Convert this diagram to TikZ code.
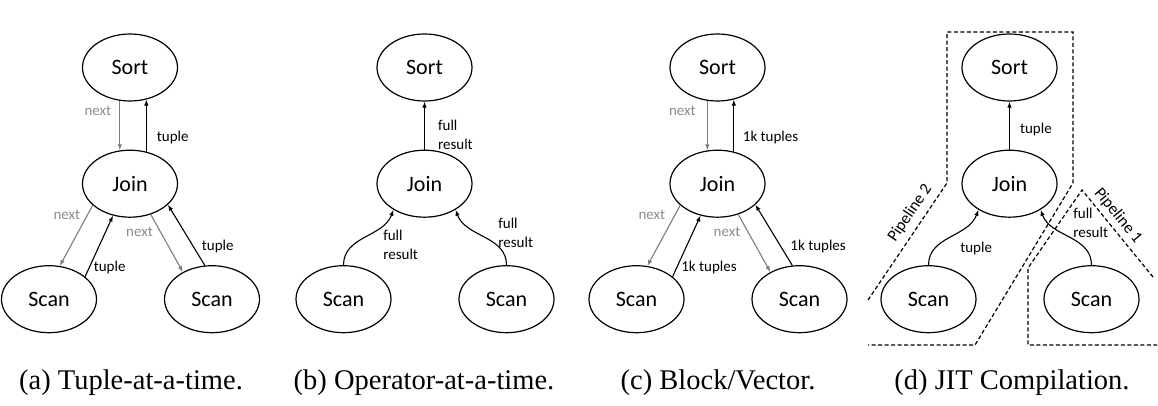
\documentclass[tikz,border=0pt]{standalone}
\usepackage{fontspec}
\setmainfont{Carlito}
\newfontfamily\capfont{Liberation Serif}
\usetikzlibrary{arrows.meta,positioning,shapes.geometric}
\definecolor{arrowgray}{RGB}{125,125,125}
\definecolor{labelgray}{RGB}{140,140,140}

\begin{document}
\begin{tikzpicture}[x=1pt, y=1pt, node distance=48pt,
    op/.style={ellipse, draw, line width=1.2pt, minimum width=95pt, minimum height=67pt,
               inner sep=0pt, font=\fontsize{22}{26}\selectfont},
    lbl/.style={font=\fontsize{15}{19}\selectfont, inner sep=1pt, align=left},
    nxt/.style={lbl, text=labelgray},
    push/.style={-{Latex[length=6pt,width=4.5pt]}, line width=1.1pt},
    pull/.style={push, draw=arrowgray},
    pipe/.style={line width=1.2pt, dash pattern=on 4pt off 2.5pt},
    pipelbl/.style={lbl, font=\fontsize{16.5}{19}\selectfont},
    subcap/.style={anchor=base, font=\capfont\fontsize{28.5}{32}\selectfont}]
  \useasboundingbox (0,0) rectangle (1158,405);

  % (a) tuple-at-a-time
  \node[op] (sortA) at (130,337.5) {Sort};
  \node[op, below=of sortA] (joinA) {Join};
  \node[op] (scanLA) at ([shift={(-81,-115.5)}]joinA) {Scan};
  \node[op] (scanRA) at ([shift={(82,-115.5)}]joinA) {Scan};
  \draw[pull] (sortA.-107) -- node[nxt, pos=0.2, left=7pt] {next} (joinA.107);
  \draw[push] (joinA.63) -- node[lbl, pos=0.27, right=9pt] {tuple} (sortA.-63);
  \draw[pull] (joinA.210) -- node[nxt, pos=0.15, left=6pt] {next} (scanLA.72);
  \draw[push] (scanLA.32) -- node[lbl, pos=0.15, right=3pt] {tuple} (joinA.242);
  \draw[pull] (joinA.304) -- node[nxt, pos=0.3, left=6pt] {next} (scanRA.137);
  \draw[push] (scanRA.102) -- node[lbl, pos=0.31, right=7pt] {tuple} (joinA.331);

  % (b) operator-at-a-time
  \node[op] (sortB) at (424.5,337.5) {Sort};
  \node[op, below=of sortB] (joinB) {Join};
  \node[op] (scanLB) at ([shift={(-81,-115.5)}]joinB) {Scan};
  \node[op] (scanRB) at ([shift={(82,-115.5)}]joinB) {Scan};
  \draw[push] (joinB) -- node[lbl, pos=0.31, right=12pt] {full\\result} (sortB);
  \draw[push] (scanLB.north) to[out=90, in=-110]
    node[lbl, pos=0.5, right=17pt, yshift=-8pt] {full\\result} (joinB.220);
  \draw[push] (scanRB.north) to[out=90, in=-70]
    node[lbl, pos=0.5, right=12pt, yshift=3.5pt] {full\\result} (joinB.320);

  % (c) block / vector
  \node[op] (sortC) at (717.5,337.5) {Sort};
  \node[op, below=of sortC] (joinC) {Join};
  \node[op] (scanLC) at ([shift={(-81,-115.5)}]joinC) {Scan};
  \node[op] (scanRC) at ([shift={(82,-115.5)}]joinC) {Scan};
  \draw[pull] (sortC.-107) -- node[nxt, pos=0.2, left=10pt] {next} (joinC.107);
  \draw[push] (joinC.63) -- node[lbl, pos=0.27, right=7.5pt] {1k tuples} (sortC.-63);
  \draw[pull] (joinC.210) -- node[nxt, pos=0.15, left=8.5pt] {next} (scanLC.72);
  \draw[push] (scanLC.32) -- node[lbl, pos=0.15, right=3pt] {1k tuples} (joinC.242);
  \draw[pull] (joinC.304) -- node[nxt, pos=0.3, left=6pt] {next} (scanRC.137);
  \draw[push] (scanRC.102) -- node[lbl, pos=0.31, right=8pt] {1k tuples} (joinC.331);

  % (d) JIT compilation
  \node[op] (sortD) at (1009.5,337.5) {Sort};
  \node[op, below=of sortD] (joinD) {Join};
  \node[op] (scanLD) at ([shift={(-81,-115.5)}]joinD) {Scan};
  \node[op] (scanRD) at ([shift={(82,-115.5)}]joinD) {Scan};
  \draw[push] (joinD) -- node[lbl, pos=0.41, right=9pt] {tuple} (sortD);
  \draw[push] (scanLD.north) to[out=90, in=-110]
    node[lbl, pos=0.5, right=9pt, yshift=-11.5pt] {tuple} (joinD.220);
  \draw[push] (scanRD.north) to[out=90, in=-70]
    node[lbl, pos=0.5, right=2pt, yshift=14pt] {full\\result} (joinD.320);
  % pipeline outlines
  \draw[pipe] (868,105) -- (947,222) -- (947,373) -- (1073,373) -- (1073,222) -- (975,60) -- (868,60);
  \draw[pipe] (1153,128) -- (1082,215) -- (1028,137) -- (1028,60) -- (1157,60);
  \node[pipelbl, rotate=56] (pipeTwo) at (910,192) {Pipeline 2};
  \node[pipelbl, rotate=-50.8] (pipeOne) at (1118,189) {Pipeline 1};

  % captions
  \node[subcap] (capA) at (131,16) {(a) Tuple-at-a-time.};
  \node[subcap] (capB) at (424,16) {(b) Operator-at-a-time.};
  \node[subcap] (capC) at (718,16) {(c) Block/Vector.};
  \node[subcap] (capD) at (1012,16) {(d) JIT Compilation.};
\end{tikzpicture}
\end{document}
